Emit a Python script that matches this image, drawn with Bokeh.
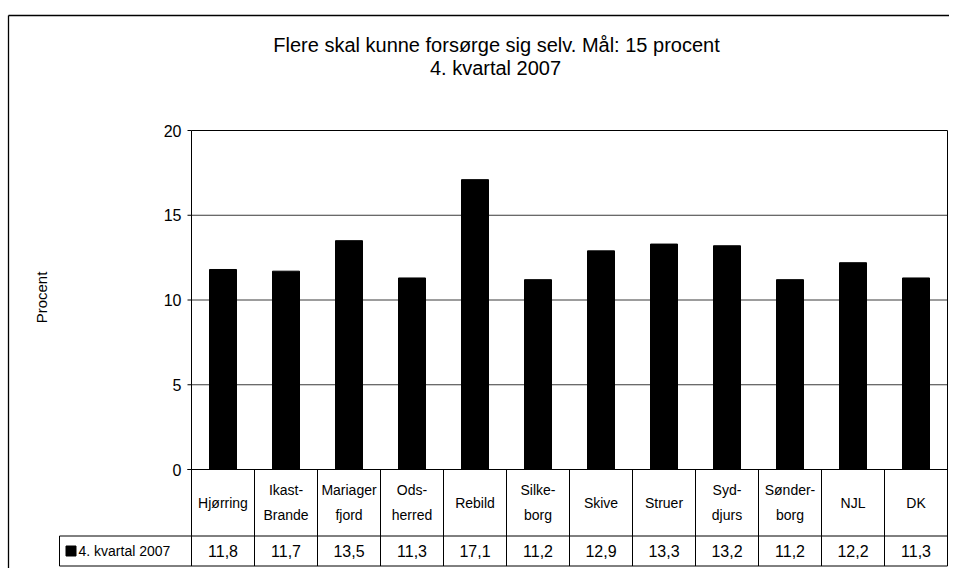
import math
from bokeh.plotting import figure
from bokeh.models import Range1d
from bokeh.core.properties import value
from bokeh.embed import file_html
from bokeh.resources import INLINE

# ---------------- data ----------------
categories = ["Hjørring", "Ikast-\nBrande", "Mariager\nfjord", "Ods-\nherred", "Rebild",
              "Silke-\nborg", "Skive", "Struer", "Syd-\ndjurs", "Sønder-\nborg", "NJL", "DK"]
values_2007 = [11.8, 11.7, 13.5, 11.3, 17.1, 11.2, 12.9, 13.3, 13.2, 11.2, 12.2, 11.3]
value_labels = ["11,8", "11,7", "13,5", "11,3", "17,1", "11,2", "12,9", "13,3", "13,2", "11,2", "12,2", "11,3"]
series_name = "4. kvartal 2007"
yticks = [0, 5, 10, 15, 20]
title_lines = ["Flere skal kunne forsørge sig selv. Mål: 15 procent", "4. kvartal 2007"]
y_label = "Procent"

# ---------------- layout (pixels inside the figure) ----------------
W, H = 949, 568
LEFT = 191          # left edge of plot area
RIGHT = 947         # right edge of plot area
Y0 = 469            # pixel row of value 0
PPU = 16.95         # pixels per unit on the value axis
FONT = value("Liberation Sans")

n = len(categories)
CW = (RIGHT - LEFT) / n


def X(px):
    return (px - LEFT) / CW


def Y(py):
    return (Y0 - py) / PPU


ymax = yticks[-1]

p = figure(width=W, height=H, x_range=Range1d(X(0), X(W)), y_range=Range1d(Y(H), Y(0)),
           output_backend="svg", toolbar_location=None,
           x_axis_location=None, y_axis_location=None, min_border=0,
           outline_line_color=None, background_fill_color="white", border_fill_color="white")
p.grid.visible = False

# outer chart border (top and left)
p.segment(x0=[X(8), X(8)], y0=[Y(15), Y(15)], x1=[X(W), X(8)], y1=[Y(15), Y(H)],
          line_color="black", line_width=1.3)

# grid lines
grid = [t for t in yticks if 0 < t < ymax]
p.segment(x0=[0] * len(grid), x1=[n] * len(grid), y0=grid, y1=grid, line_color="#3a3a3a", line_width=1)

# bars
cx = [i + 0.5 for i in range(n)]
p.vbar(x=cx, top=values_2007, bottom=0, width=27 / CW, fill_color="black", line_color="black")

# plot area frame
table_bottom = Y(565.5)
row_split = Y(535.5)
p.segment(x0=[0, 0, n], y0=[table_bottom, ymax, table_bottom], x1=[0, n, n], y1=[ymax, ymax, ymax],
          line_color="black", line_width=1)
# axis line at zero
p.segment(x0=[X(187)], y0=[0], x1=[n], y1=[0], line_color="black", line_width=1)

# y ticks
p.segment(x0=[X(187)] * len(yticks), x1=[0] * len(yticks), y0=yticks, y1=yticks, line_color="black")
p.text(x=[X(181)] * len(yticks), y=yticks, text=[str(t) for t in yticks], text_font=FONT,
       text_font_size="16px", text_align="right", text_baseline="middle", text_color="black")

# y label
p.text(x=[X(41)], y=[Y(297)], text=[y_label], angle=math.pi / 2, text_font=FONT,
       text_font_size="15px", text_align="center", text_baseline="middle", text_color="black")

# title
p.text(x=[X(496), X(495)], y=[Y(44), Y(67)], text=title_lines, text_font=FONT,
       text_font_size="20px", text_align="center", text_baseline="middle", text_color="black")

# data table lines
p.segment(x0=[X(59), X(59)], y0=[row_split, table_bottom], x1=[n, n], y1=[row_split, table_bottom],
          line_color="black", line_width=1)
p.segment(x0=[X(59)], y0=[row_split], x1=[X(59)], y1=[table_bottom], line_color="black", line_width=1)
p.segment(x0=list(range(1, n)), y0=[table_bottom] * (n - 1), x1=list(range(1, n)), y1=[0] * (n - 1),
          line_color="black", line_width=1)

# category labels
one_x, one_y, one_t = [], [], []
two_x, t1, t2 = [], [], []
for i, c in enumerate(categories):
    parts = c.split("\n")
    if len(parts) == 1:
        one_x.append(i + 0.5); one_y.append(Y(502)); one_t.append(parts[0])
    else:
        two_x.append(i + 0.5); t1.append(parts[0]); t2.append(parts[1])
kw = dict(text_font=FONT, text_font_size="14px", text_align="center", text_baseline="middle", text_color="black")
p.text(x=one_x, y=one_y, text=one_t, **kw)
p.text(x=two_x, y=[Y(489)] * len(two_x), text=t1, **kw)
p.text(x=two_x, y=[Y(514)] * len(two_x), text=t2, **kw)

# value row
p.text(x=cx, y=[Y(550.5)] * n, text=value_labels, text_font=FONT, text_font_size="16px",
       text_align="center", text_baseline="middle", text_color="black")

# legend key in table
p.scatter(x=[X(70.5)], y=[Y(550.5)], marker="square", size=10, fill_color="black", line_color="black")
p.text(x=[X(78)], y=[Y(550.5)], text=[series_name], text_font=FONT, text_font_size="14px",
       text_align="left", text_baseline="middle", text_color="black")

open("out.html", "w").write(file_html(p, INLINE))
